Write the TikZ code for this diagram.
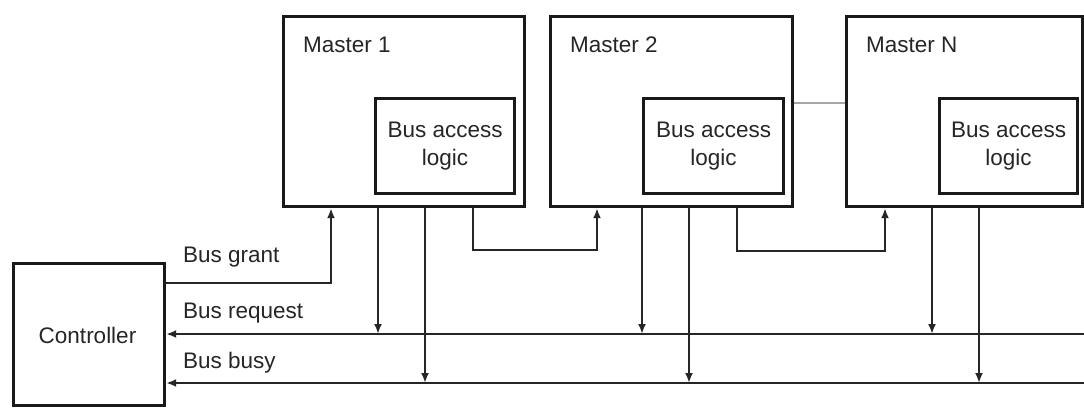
\documentclass[tikz,border=0pt]{standalone}
\usepackage{fontspec}
\setmainfont{Liberation Sans}
\usetikzlibrary{arrows.meta}
\begin{document}
\begin{tikzpicture}[x=1pt,y=-1pt,
  box/.style={draw=black!90, line width=3.2pt, inner sep=0pt, anchor=north west},
  lbl/.style={inner sep=0pt, anchor=base west, text=black!85},
  wire/.style={draw=black!85, line width=2.4pt},
  arr/.style={wire, -{Latex[length=10pt,width=8pt]}},
  every node/.style={font=\fontsize{22.5}{28}\selectfont}]
\useasboundingbox (0,0) rectangle (1084,407);
\fill[white] (0,0) rectangle (1084,407);
% masters
\node[box, minimum width=241pt, minimum height=190pt] (m1) at (282,15) {};
\node[box, minimum width=242pt, minimum height=190pt] (m2) at (549,15) {};
\node[box, minimum width=236pt, minimum height=190pt] (mN) at (845,15) {};
\node[lbl] (t1) at (303,52) {Master 1};
\node[lbl] (t2) at (570,52) {Master 2};
\node[lbl] (tN) at (866,52) {Master N};
% bus access logic
\node[box, minimum width=139pt, minimum height=95pt, align=center, text=black!85] (b1) at (374,97) {Bus access\\logic};
\node[box, minimum width=140pt, minimum height=95pt, align=center, text=black!85] (b2) at (642,97) {Bus access\\logic};
\node[box, minimum width=138pt, minimum height=95pt, align=center, text=black!85] (bN) at (938,97) {Bus access\\logic};
% controller
\node[box, minimum width=151pt, minimum height=142pt, text=black!85] (ctrl) at (12,262) {};
\node[inner sep=0pt, anchor=base, text=black!85] (ct) at (87.5,343) {Controller};
% labels
\node[lbl] (lg) at (183,262) {Bus grant};
\node[lbl] (lr) at (183,318) {Bus request};
\node[lbl] (lb) at (183,368) {Bus busy};
% coordinates
\coordinate (g) at (331,283);
\coordinate (rq) at (1084,334);
\coordinate (bz) at (1084,383);
\coordinate (gy) at (0,103);
\coordinate (q1) at (378,334);
\coordinate (z1) at (425,383);
\coordinate (q2) at (642,334);
\coordinate (z2) at (689,383);
\coordinate (q3) at (932,334);
\coordinate (z3) at (979,383);
\coordinate (c1a) at (473,250);
\coordinate (c1b) at (597,250);
\coordinate (c2a) at (737,251);
\coordinate (c2b) at (885,251);
% dotted continuation
\draw[black!35, line width=1.5pt] (m2.east |- gy) -- (mN.west |- gy);
% bus grant
\draw[arr] (ctrl.east |- g) -- (g) -- (g |- m1.south);
% bus lines
\draw[arr] (rq) -- (ctrl.east |- rq);
\draw[arr] (bz) -- (ctrl.east |- bz);
% drops
\draw[arr] (q1 |- m1.south) -- (q1);
\draw[arr] (z1 |- m1.south) -- (z1);
\draw[arr] (q2 |- m2.south) -- (q2);
\draw[arr] (z2 |- m2.south) -- (z2);
\draw[arr] (q3 |- mN.south) -- (q3);
\draw[arr] (z3 |- mN.south) -- (z3);
% daisy chain
\draw[arr] (c1a |- m1.south) -- (c1a) -- (c1b) -- (c1b |- m2.south);
\draw[arr] (c2a |- m2.south) -- (c2a) -- (c2b) -- (c2b |- mN.south);
\end{tikzpicture}
\end{document}
